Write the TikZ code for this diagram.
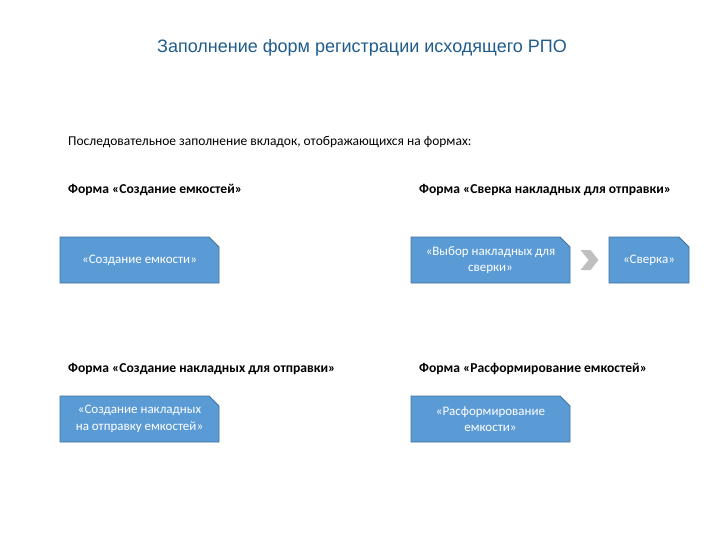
\documentclass[tikz,border=0pt]{standalone}
\usepackage{fontspec}
\setmainfont{Carlito}
\newfontfamily\titlefont{Liberation Sans}
\usetikzlibrary{shapes.misc,calc}
\definecolor{boxfill}{HTML}{5B9BD5}
\definecolor{boxline}{HTML}{41719C}
\definecolor{titleblue}{HTML}{1F5C8B}
\definecolor{chevgray}{HTML}{BFBFBF}
\begin{document}
\begin{tikzpicture}[x=1pt,y=-1pt,
  tab/.style={chamfered rectangle, chamfered rectangle corners=north east,
    chamfered rectangle sep=5pt, draw=boxline, line width=0.8pt, fill=boxfill,
    text=white, font=\fontsize{13}{16.5}\selectfont, align=center,
    minimum width=159pt, minimum height=46pt, inner sep=0pt},
  formlabel/.style={anchor=west, font=\fontsize{13.6}{16}\selectfont\bfseries, inner sep=0pt},
  plain/.style={anchor=west, font=\fontsize{13.5}{16}\selectfont, inner sep=0pt}]
\useasboundingbox (0,0) rectangle (720,540);
\node[font=\titlefont\fontsize{18}{22}\selectfont, text=titleblue] (title) at (362,48) {Заполнение форм регистрации исходящего РПО};
\node[plain] (intro) at (68,142) {Последовательное заполнение вкладок, отображающихся на формах:};
\node[formlabel] (l1) at (68,190) {Форма «Создание емкостей»};
\node[formlabel] (l2) at (419,190) {Форма «Сверка накладных для отправки»};
\node[formlabel] (l3) at (68,369) {Форма «Создание накладных для отправки»};
\node[formlabel] (l4) at (419,369) {Форма «Расформирование емкостей»};
\node[tab] (b1) at (139.5,260) {«Создание емкости»};
\node[tab] (b2) at (490.5,260) {«Выбор накладных для\\сверки»};
\node[tab, minimum width=80pt] (b3) at (649,260) {«Сверка»};
\node[tab] (b4) at (139.5,419) {«Создание накладных\\на отправку емкостей»};
\node[tab] (b5) at (490.5,419) {«Расформирование\\емкости»};
\coordinate (c) at ($(b2.east)!0.5!(b3.west)$);
\fill[chevgray] ($(c)+(-9,-10)$) -- ++(10,0) -- ++(8,10) -- ++(-8,10) -- ++(-10,0) -- ++(8,-10) -- cycle;
\end{tikzpicture}
\end{document}
